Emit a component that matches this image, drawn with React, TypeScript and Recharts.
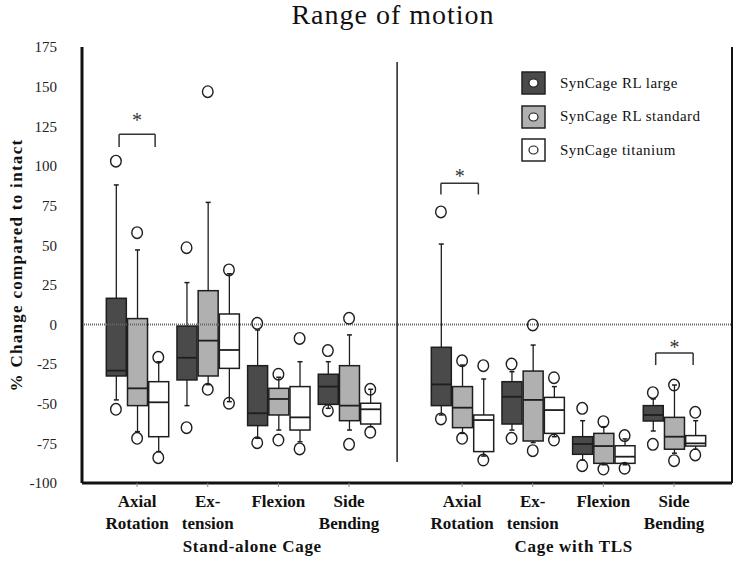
import {
  Bar,
  ComposedChart,
  Legend,
  ReferenceDot,
  ReferenceLine,
  Scatter,
  XAxis,
  YAxis,
} from "recharts";

const FONT = '"Liberation Serif", "Times New Roman", serif';

const categories = [
  "Axial Rotation",
  "Ex- tension",
  "Flexion",
  "Side Bending",
  "Axial Rotation",
  "Ex- tension",
  "Flexion",
  "Side Bending",
];
const categoryPos = [1, 2, 3, 4, 5.6, 6.6, 7.6, 8.6];
const panels = ["Stand-alone Cage", "Cage with TLS"];
const panelPos = [2.63, 7.18];
const yTicks = [-100, -75, -50, -25, 0, 25, 50, 75, 100, 125, 150, 175];
const xDomain = [0.22, 9.42];

const seriesNames = ["SynCage RL large", "SynCage RL standard", "SynCage titanium"];
const seriesColors = ["#4a4a4a", "#b0b0b0", "#ffffff"];
const seriesShift = [-0.3, 0, 0.3];

// SynCage RL large
const largeLow = [-47.6, -51.2, -71.8, -52.9, -57.1, -66.6, -85.5, -67.2];
const largeQ1 = [-32.5, -35, -63.8, -50.4, -51.2, -62.8, -81.9, -60.9];
const largeMed = [-29.1, -21, -56, -39.2, -37.8, -45.6, -75.4, -57.1];
const largeQ3 = [16.5, -1, -26, -31.4, -14.4, -36.1, -70.8, -51.2];
const largeHigh = [88, 26.4, -3.5, -23.5, 50.7, -29.8, -60.7, -47];
const largeOut = [
  [103, -53.5], [48.4, -65.1], [0.7, -74.6], [-16.5, -54.4],
  [71, -59.6], [-25, -71.8], [-52.9, -89.1], [-43, -75.6],
];

// SynCage RL standard
const standardLow = [-67.6, -38, -66.6, -66.6, -68.7, -74.5, -88.5, -81.2];
const standardQ1 = [-51.2, -32.5, -57.1, -60.7, -65.1, -73.5, -87.6, -78.7];
const standardMed = [-40.3, -10.2, -47, -51.2, -52.5, -47.6, -76.7, -70.8];
const standardQ3 = [3.7, 21.3, -40.3, -26, -39.2, -29.4, -68.7, -58.6];
const standardHigh = [47, 77, -33.3, -6.6, -25.6, -13, -64.5, -38.2];
const standardOut = [
  [57.9, -71.8], [146.8, -40.9], [-31.4, -72.9], [3.9, -75.6],
  [-22.9, -71.8], [-0.3, -79.6], [-61.3, -91.2], [-38.2, -85.9],
];

// SynCage titanium
const titaniumLow = [-80.2, -48.7, -74, -64.5, -83, -70.8, -88.5, -78.7];
const titaniumQ1 = [-70.8, -27.7, -66.6, -62.8, -80.2, -68.7, -87.6, -76.7];
const titaniumMed = [-49.1, -16.1, -58.6, -53.5, -60.3, -54, -83.4, -75];
const titaniumQ3 = [-36.1, 6.6, -39.2, -49.7, -57.1, -46, -76.5, -70.1];
const titaniumHigh = [-23.5, 32, -23.5, -40.9, -34.4, -39.2, -72.2, -60.7];
const titaniumOut = [
  [-20.7, -84], [34.4, -49.7], [-8.8, -78.5], [-40.9, -68],
  [-26, -85.5], [-33.6, -72.9], [-70.1, -90.7], [-55.4, -82.3],
];

// significance brackets (from, to, bracket top, leg foot, asterisk)
const brackets = [
  { from: 0.745, to: 1.255, top: 120, foot: 112, star: 129 },
  { from: 5.3, to: 5.83, top: 89, foot: 82, star: 93.5 },
  { from: 8.34, to: 8.87, top: -18, foot: -25.6, star: -14 },
];
const divider = { x: 4.68, from: -86.7, to: 165.5 };

const stats = [
  { low: largeLow, q1: largeQ1, med: largeMed, q3: largeQ3, high: largeHigh, out: largeOut },
  { low: standardLow, q1: standardQ1, med: standardMed, q3: standardQ3, high: standardHigh, out: standardOut },
  { low: titaniumLow, q1: titaniumQ1, med: titaniumMed, q3: titaniumQ3, high: titaniumHigh, out: titaniumOut },
];

const boxRows = stats.flatMap((st, s) =>
  categoryPos.map((p, i) => ({
    x: p + seriesShift[s],
    s,
    box: [st.q1[i], st.q3[i]],
    low: st.low[i],
    med: st.med[i],
    high: st.high[i],
  }))
);

const outlierRows = stats.map((st, s) =>
  st.out.flatMap((vals, i) => vals.map((v) => ({ x: categoryPos[i] + seriesShift[s], y: v })))
);

// draws one box + whiskers; the bar gives q1/q3 in pixels, the rest follows the same linear scale
const BoxShape = (props: any) => {
  const { x, y, width, height, payload } = props;
  if (!payload) return null;
  const [q1, q3] = payload.box;
  const top = Math.min(y, y + height);
  const h = Math.abs(height);
  const k = h / (q3 - q1);
  const py = (v: number) => top + (q3 - v) * k;
  const cx = x + width / 2;
  const stroke = "#1e1e1e";
  return (
    <g>
      <line x1={cx} x2={cx} y1={py(payload.high)} y2={top} stroke={stroke} strokeWidth={1.3} />
      <line x1={cx} x2={cx} y1={top + h} y2={py(payload.low)} stroke={stroke} strokeWidth={1.3} />
      <line x1={cx - 2.5} x2={cx + 2.5} y1={py(payload.high)} y2={py(payload.high)} stroke={stroke} strokeWidth={1.5} />
      <line x1={cx - 2.5} x2={cx + 2.5} y1={py(payload.low)} y2={py(payload.low)} stroke={stroke} strokeWidth={1.5} />
      <rect x={x} y={top} width={width} height={h} fill={seriesColors[payload.s]} stroke={stroke} strokeWidth={1.5} />
      <line x1={x} x2={x + width} y1={py(payload.med)} y2={py(payload.med)} stroke={stroke} strokeWidth={1.8} />
    </g>
  );
};

const OutlierShape = (props: any) => (
  <ellipse cx={props.cx} cy={props.cy} rx={5.3} ry={5.8} fill="none" stroke="#1e1e1e" strokeWidth={1.4} />
);

const CategoryTick = (props: any) => {
  const { x, y, payload } = props;
  const i = categoryPos.indexOf(payload.value);
  const lines = (categories[i] ?? "").split(" ");
  return (
    <text textAnchor="middle" fontFamily={FONT} fontSize={17} fontWeight="bold" fill="#111">
      {lines.map((t, k) => (
        <tspan key={k} x={x} y={y + 18 + k * 22}>
          {t}
        </tspan>
      ))}
    </text>
  );
};

const PanelTick = (props: any) => {
  const { x, y, payload } = props;
  const i = panelPos.indexOf(payload.value);
  return (
    <text x={x} y={y + 19} textAnchor="middle" fontFamily={FONT} fontSize={17} fontWeight="bold" letterSpacing={0.7} fill="#111">
      {panels[i]}
    </text>
  );
};

const renderYLabel = (props: any) => {
  const vb = props.viewBox;
  const cx = 16;
  const cy = vb.y + vb.height / 2;
  return (
    <text
      x={cx}
      y={cy}
      transform={`rotate(-90 ${cx} ${cy})`}
      textAnchor="middle"
      dominantBaseline="central"
      fontFamily={FONT}
      fontSize={17}
      fontWeight="bold"
      letterSpacing={1.3}
      fill="#111"
    >
      % Change compared to intact
    </text>
  );
};

const LegendBlock = () => (
  <div style={{ fontFamily: FONT, fontSize: 15, letterSpacing: 0.5, color: "#111" }}>
    {seriesNames.map((name, s) => (
      <div key={name} style={{ display: "flex", alignItems: "center", height: 24, marginBottom: 9.5 }}>
        <svg width={25} height={24}>
          <rect x={1} y={1} width={23} height={22} fill={seriesColors[s]} stroke="#222" strokeWidth={1.5} />
          <ellipse cx={12.5} cy={12} rx={4.5} ry={4} fill="#fff" stroke="#222" strokeWidth={1.2} />
        </svg>
        <span style={{ marginLeft: 14 }}>{name}</span>
      </div>
    ))}
  </div>
);

export default function App() {
  return (
    <div style={{ position: "absolute", left: 0, top: 0, width: 742, height: 566, background: "#fff" }}>
      <div
        style={{
          position: "absolute",
          left: 243,
          width: 300,
          top: 1,
          textAlign: "center",
          fontFamily: FONT,
          fontSize: 28,
          lineHeight: "28px",
          letterSpacing: 1,
          color: "#111",
          zIndex: 1,
        }}
      >
        Range of motion
      </div>
      <ComposedChart width={742} height={566} data={boxRows} margin={{ top: 47, right: 10, bottom: 0, left: 22 }}>
        <XAxis
          dataKey="x"
          type="number"
          domain={xDomain}
          allowDataOverflow
          ticks={categoryPos}
          interval={0}
          height={50}
          tickSize={4}
          tickLine={{ stroke: "#888" }}
          axisLine={{ stroke: "#111", strokeWidth: 3 }}
          tick={<CategoryTick />}
        />
        <XAxis
          xAxisId="top"
          dataKey="x"
          orientation="top"
          type="number"
          domain={xDomain}
          allowDataOverflow
          ticks={categoryPos}
          interval={0}
          height={0}
          tickSize={3}
          tick={false}
          tickLine={{ stroke: "#888" }}
          axisLine={{ stroke: "#111", strokeWidth: 3 }}
        />
        <XAxis
          xAxisId="panel"
          dataKey="x"
          type="number"
          domain={xDomain}
          allowDataOverflow
          ticks={panelPos}
          interval={0}
          height={33}
          tickSize={0}
          tickMargin={0}
          axisLine={false}
          tickLine={false}
          tick={<PanelTick />}
        />
        <YAxis
          type="number"
          domain={[-100, 175]}
          allowDataOverflow
          ticks={yTicks}
          interval={0}
          width={60}
          tickSize={6}
          tickMargin={19}
          tickLine={false}
          axisLine={{ stroke: "#111", strokeWidth: 3 }}
          tick={{ fontSize: 15, fill: "#222", fontFamily: FONT }}
          label={{ content: renderYLabel }}
        />
        <Legend
          layout="vertical"
          verticalAlign="middle"
          align="center"
          wrapperStyle={{ left: 521, top: 71, width: 210 }}
          content={() => <LegendBlock />}
        />
        <ReferenceLine y={0} stroke="#666" strokeWidth={2} strokeDasharray="1 1" />
        <ReferenceLine x={xDomain[1]} stroke="#111" strokeWidth={2} ifOverflow="visible" />
        <ReferenceLine
          segment={[
            { x: divider.x, y: divider.from },
            { x: divider.x, y: divider.to },
          ]}
          stroke="#222"
          strokeWidth={1.5}
        />
        <Bar dataKey="box" barSize={20} shape={<BoxShape />} isAnimationActive={false} />
        {outlierRows.map((rows, s) => (
          <Scatter
            key={seriesNames[s]}
            name={seriesNames[s]}
            data={rows}
            dataKey="y"
            shape={<OutlierShape />}
            isAnimationActive={false}
          />
        ))}
        {brackets.flatMap((b, i) => [
          <ReferenceLine key={`l${i}`} segment={[{ x: b.from, y: b.foot }, { x: b.from, y: b.top }]} stroke="#333" strokeWidth={1.5} />,
          <ReferenceLine key={`t${i}`} segment={[{ x: b.from, y: b.top }, { x: b.to, y: b.top }]} stroke="#333" strokeWidth={1.5} />,
          <ReferenceLine key={`r${i}`} segment={[{ x: b.to, y: b.top }, { x: b.to, y: b.foot }]} stroke="#333" strokeWidth={1.5} />,
          <ReferenceDot
            key={`s${i}`}
            x={(b.from + b.to) / 2}
            y={b.star}
            r={0}
            fill="none"
            stroke="none"
            label={{ value: "*", position: "center", fontSize: 20, fontFamily: FONT, fill: "#333" }}
          />,
        ])}
      </ComposedChart>
    </div>
  );
}
